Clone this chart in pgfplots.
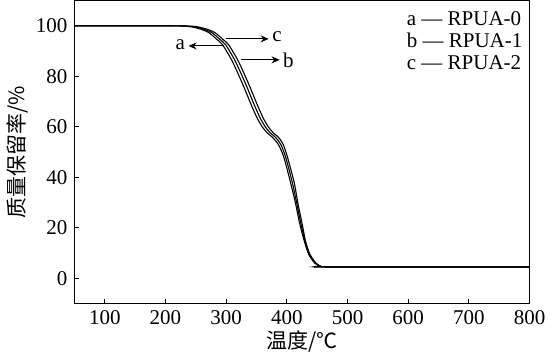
\documentclass[border=0pt]{standalone}
\usepackage{pgfplots}
\pgfplotsset{compat=1.18}
\usepackage{fontspec}
\setmainfont{Liberation Serif}
\newfontfamily\cjk{Noto Sans CJK SC}
\usetikzlibrary{arrows.meta}
\pgfplotstableread{
T W
50 100
200 100
235 99.8
250 99.2
260 98.5
272 97.2
285 94.5
294 92.5
310 86
327 77
343 67.7
352 63
360 59.8
368 57.5
376 55.9
386 53
395 48
406 38
414 30
421 21.8
429 14.5
436 9.5
446 6
455 4.8
464 4.5
800 4.5
}\dataA
\pgfplotstableread{
T W
50 100
200 100
240 99.8
255 99.2
265 98.5
277 97.2
290 94.5
299 92.5
315 86
332 77
348 67.7
357 63
365 59.8
373 57.5
381 55.9
390 53
398 48
409 38
416 30
423 21.8
430 14.5
437 9.5
447 6
455 4.8
464 4.5
800 4.5
}\dataB
\pgfplotstableread{
T W
50 100
200 100
245 99.8
260 99.2
270 98.5
282 97.2
295 94.5
304 92.5
320 86
337 77
353 67.7
362 63
370 59.8
378 57.5
386 55.9
394 53
401 48
412 38
418 30
425 21.8
431 14.5
438 9.5
448 6
456 4.8
464 4.5
800 4.5
}\dataC
\begin{document}
\begin{tikzpicture}
\begin{axis}[
  scale only axis,
  width=226.75bp, height=151bp,
  xmin=50, xmax=800, ymin=-10, ymax=110,
  xtick={100,200,...,800}, ytick={0,20,...,100},
  tick align=inside, xtick pos=bottom, ytick pos=left,
  major tick length=2.5bp,
  axis line style={line width=0.5bp},
  tick style={line width=0.5bp, black},
  every tick label/.style={font=\fontsize{10.5}{12}\selectfont},
  /pgf/number format/assume math mode=true,
  xlabel={\cjk\fontsize{10.5}{12}\selectfont 温度/℃},
  ylabel={\cjk\fontsize{10.5}{12}\selectfont 质量保留率/\%},
  xlabel style={yshift=4bp},
  ylabel style={yshift=-3bp},
  clip=false,
]
\addplot[black, line width=0.55bp, smooth, tension=0.4] table[x=T,y=W] {\dataA};
\addplot[black, line width=0.55bp, smooth, tension=0.4] table[x=T,y=W] {\dataB};
\addplot[black, line width=0.55bp, smooth, tension=0.4] table[x=T,y=W] {\dataC};
\draw[-{Stealth[length=4bp,width=3.5bp]}, line width=0.5bp] (axis cs:299,94.8) -- (axis cs:370,94.8);
\node[anchor=west, inner sep=1bp, font=\fontsize{10.5}{12}\selectfont] at (axis cs:372,95.8) {c};
\draw[-{Stealth[length=4bp,width=3.5bp]}, line width=0.5bp] (axis cs:324,86.5) -- (axis cs:388,86.5);
\draw[-{Stealth[length=4bp,width=3.5bp]}, line width=0.5bp] (axis cs:296,92) -- (axis cs:238,92);
\node[anchor=west, inner sep=1bp, font=\fontsize{10.5}{12}\selectfont] at (axis cs:390,86.5) {b};
\node[anchor=east, inner sep=1bp, font=\fontsize{10.5}{12}\selectfont] at (axis cs:236,92.5) {a};
\node[anchor=north east, align=left, inner sep=0pt, font=\fontsize{10.5}{11}\selectfont] at (rel axis cs:0.985,0.965)
 {a — RPUA-0\\b — RPUA-1\\c — RPUA-2};
\end{axis}
\end{tikzpicture}
\end{document}
